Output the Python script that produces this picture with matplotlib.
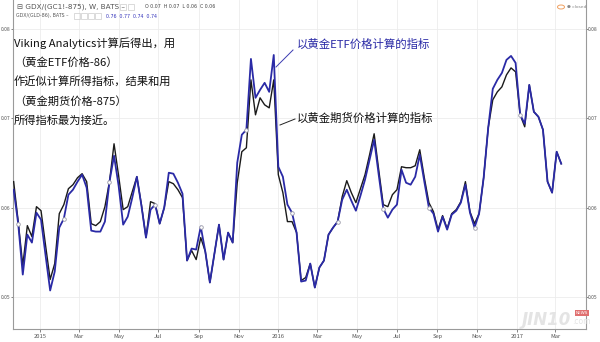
import matplotlib
matplotlib.use("Agg")
import matplotlib.pyplot as plt
import matplotlib.dates as mdates
import numpy as np
import pandas as pd

plt.rcParams['font.family'] = ['Noto Sans CJK SC', 'DejaVu Sans']

start_date = "2014-11-21"
n_weeks = 121

# GDX/(GC1!-875)  (gold futures based)
futures_idx = [
    0.06291, 0.05844, 0.05352, 0.05799, 0.05676, 0.06011, 0.05966, 0.05575, 0.05196, 0.05374,
    0.05933, 0.06034, 0.06212, 0.06257, 0.06335, 0.06380, 0.06291, 0.05821, 0.05799, 0.05844,
    0.06011, 0.06291, 0.06715, 0.06358, 0.05978, 0.06011, 0.06179, 0.06346, 0.06034, 0.05665,
    0.06067, 0.06045, 0.05821, 0.06000, 0.06291, 0.06268, 0.06201, 0.06112, 0.05408, 0.05520,
    0.05419, 0.05665, 0.05508, 0.05162, 0.05486, 0.05810, 0.05419, 0.05721, 0.05609, 0.06279,
    0.06626, 0.06670, 0.07430, 0.07039, 0.07229, 0.07151, 0.07117, 0.07430, 0.06369, 0.06168,
    0.05844, 0.05844, 0.05721, 0.05184, 0.05218, 0.05374, 0.05106, 0.05330, 0.05408, 0.05698,
    0.05777, 0.05844, 0.06123, 0.06302, 0.06168, 0.06056, 0.06212, 0.06369, 0.06592, 0.06827,
    0.06425, 0.06034, 0.06011, 0.06145, 0.06201, 0.06458, 0.06447, 0.06447, 0.06469, 0.06648,
    0.06335, 0.06056, 0.05955, 0.05754, 0.05911, 0.05765, 0.05933, 0.05978, 0.06067, 0.06291,
    0.05955, 0.05821, 0.05933, 0.06335, 0.06894, 0.07207, 0.07296, 0.07352, 0.07486, 0.07564,
    0.07520, 0.07039, 0.06905, 0.07374, 0.07073, 0.07017, 0.06872, 0.06291, 0.06168, 0.06626,
    0.06492,
]

# GDX/(GLD-86)  (gold ETF based)
etf_idx = [
    0.06201, 0.05821, 0.05251, 0.05698, 0.05609, 0.05944, 0.05866, 0.05464, 0.05073, 0.05285,
    0.05777, 0.05877, 0.06145, 0.06201, 0.06291, 0.06369, 0.06223, 0.05743, 0.05732, 0.05732,
    0.05844, 0.06291, 0.06581, 0.06246, 0.05810, 0.05899, 0.06112, 0.06346, 0.06022, 0.05665,
    0.05978, 0.06034, 0.05821, 0.06000, 0.06391, 0.06380, 0.06279, 0.06156, 0.05408, 0.05542,
    0.05531, 0.05788, 0.05508, 0.05162, 0.05486, 0.05810, 0.05419, 0.05721, 0.05609, 0.06503,
    0.06816, 0.06872, 0.07665, 0.07229, 0.07318, 0.07397, 0.07296, 0.07709, 0.06458, 0.06346,
    0.06034, 0.05944, 0.05721, 0.05173, 0.05184, 0.05374, 0.05106, 0.05330, 0.05408, 0.05698,
    0.05777, 0.05844, 0.06089, 0.06201, 0.06078, 0.05966, 0.06134, 0.06313, 0.06536, 0.06760,
    0.06369, 0.05989, 0.05888, 0.05978, 0.06034, 0.06425, 0.06279, 0.06257, 0.06346, 0.06592,
    0.06291, 0.06000, 0.05933, 0.05732, 0.05899, 0.05754, 0.05922, 0.05966, 0.06056, 0.06257,
    0.05944, 0.05777, 0.05933, 0.06335, 0.06894, 0.07330, 0.07430, 0.07508, 0.07654, 0.07698,
    0.07620, 0.07039, 0.06939, 0.07374, 0.07073, 0.07017, 0.06872, 0.06291, 0.06168, 0.06626,
    0.06492,
]

y_ticks = [0.05, 0.06, 0.07, 0.08]
y_tick_labels = ["0.05", "0.06", "0.07", "0.08"]
x_tick_dates = ["2015-01-01", "2015-03-01", "2015-05-01", "2015-07-01", "2015-09-01", "2015-11-01",
                "2016-01-01", "2016-03-01", "2016-05-01", "2016-07-01", "2016-09-01", "2016-11-01",
                "2017-01-01", "2017-03-01"]
x_tick_labels = ["2015", "Mar", "May", "Jul", "Sep", "Nov", "2016", "Mar", "May", "Jul", "Sep", "Nov",
                 "2017", "Mar"]

dates = pd.date_range(start_date, periods=n_weeks, freq="7D")

fig = plt.figure(figsize=(6.0, 3.42), dpi=100)
ax = fig.add_axes([13/600, 13/342, (586-13)/600, 1 - 13/342])

grid_c = "#ececec"
ax.set_yticks(y_ticks)
ax.set_yticklabels(y_tick_labels)
ax.set_xticks(pd.to_datetime(x_tick_dates))
ax.set_xticklabels(x_tick_labels)
ax.grid(True, color=grid_c, lw=0.6)
ax.set_axisbelow(True)

ax.plot(dates, futures_idx, color="#1a1a1a", lw=1.0, zorder=3)
ax.plot(dates, etf_idx, color="#2a2aa6", lw=1.3, zorder=4,
        marker="o", markevery=list(range(1, n_weeks, 10)), markersize=2.6,
        markerfacecolor="white", markeredgecolor="#9a9aa8", markeredgewidth=0.6)

ax.set_xlim(dates[0] - pd.Timedelta(days=1), dates[-1] + pd.Timedelta(days=38))
ax.set_ylim(0.04642, 0.08324)

ax.spines["top"].set_visible(False)
for s in ["left", "right", "bottom"]:
    ax.spines[s].set_color("#9a9a9a")
    ax.spines[s].set_linewidth(0.8)

ax.tick_params(axis="x", labelsize=4.2, colors="#555555", length=2, pad=1.5, width=0.5)
ax.tick_params(axis="y", which="both", labelsize=3.6, colors="#555555", width=0.5,
               left=True, right=True, labelleft=True, labelright=True)
ax.tick_params(axis="y", length=1.2, pad=0.4)

# header
fig.text(17/600, 1 - 7/342, "⊟ GDX/(GC1!-875), W, BATS –", fontsize=5.2, color="#555555",
         va="center", ha="left", family=["DejaVu Sans"])
for k in range(2):
    fig.patches.append(plt.Rectangle(((120 + k*8)/600, 1 - 10/342), 6/600, 6/342,
                                     transform=fig.transFigure, fill=False, ec="#cccccc", lw=0.5))
fig.text(145/600, 1 - 7/342, "O 0.07  H 0.07  L 0.06  C 0.06", fontsize=3.4, color="#444444",
         va="center", ha="left", family=["DejaVu Sans"])
fig.text(16/600, 1 - 16/342, "GDX/(GLD-86), BATS –", fontsize=3.4, color="#555555",
         va="center", ha="left", family=["DejaVu Sans"])
for k in range(4):
    fig.patches.append(plt.Rectangle(((74 + k*7)/600, 1 - 19/342), 5.5/600, 5.5/342,
                                     transform=fig.transFigure, fill=False, ec="#cccccc", lw=0.5))
fig.text(106/600, 1 - 16/342, "0.76  0.77  0.74  0.74", fontsize=3.4, color="#3333bb",
         va="center", ha="left", family=["DejaVu Sans"])

# closed indicator
fig.patches.append(plt.Circle((561/600, 1 - 7/342), 3.5/600, transform=fig.transFigure,
                              fill=False, ec="#f0a060", lw=0.7))
fig.text(567/600, 1 - 7/342, "● closed", fontsize=3.2, color="#888888", va="center", ha="left",
         family=["DejaVu Sans"])

# explanatory text
lines = ["Viking Analytics计算后得出，用", "（黄金ETF价格-86）", "作近似计算所得指标，结果和用",
         "（黄金期货价格-875）", "所得指标最为接近。"]
for k, t in enumerate(lines):
    fig.text(14/600, 1 - (43 + 19.4*k)/342, t, fontsize=8.1, color="#111111", va="center",
             ha="left", fontweight="medium")

# series labels
fig.text(297/600, 1 - 44/342, "以黄金ETF价格计算的指标", fontsize=8.2, color="#2a2aa6",
         va="center", ha="left", fontweight="medium")
fig.text(297/600, 1 - 118/342, "以黄金期货价格计算的指标", fontsize=8.2, color="#111111",
         va="center", ha="left", fontweight="medium")
fig.add_artist(plt.Line2D([276/600, 293/600], [1 - 67/342, 1 - 50/342], color="#3a3ab0", lw=0.7,
                          transform=fig.transFigure))
fig.add_artist(plt.Line2D([280/600, 295/600], [1 - 125/342, 1 - 119/342], color="#222222", lw=0.7,
                          transform=fig.transFigure))

# watermark
fig.text(546/600, 1 - 320/342, "JIN10", fontsize=12, color="#e4e4e4", style="italic",
         fontweight="bold", va="center", ha="center", family=["DejaVu Sans"])
fig.text(572/600, 1 - 322/342, ".com", fontsize=5.5, color="#e4e4e4", va="center", ha="left",
         family=["DejaVu Sans"])
fig.text(582/600, 1 - 313/342, "NEWS", fontsize=3.0, color="white", va="center", ha="center",
         family=["DejaVu Sans"], bbox=dict(boxstyle="square,pad=0.2", fc="#e07070", ec="none"))

fig.savefig("out.png", dpi=100)
